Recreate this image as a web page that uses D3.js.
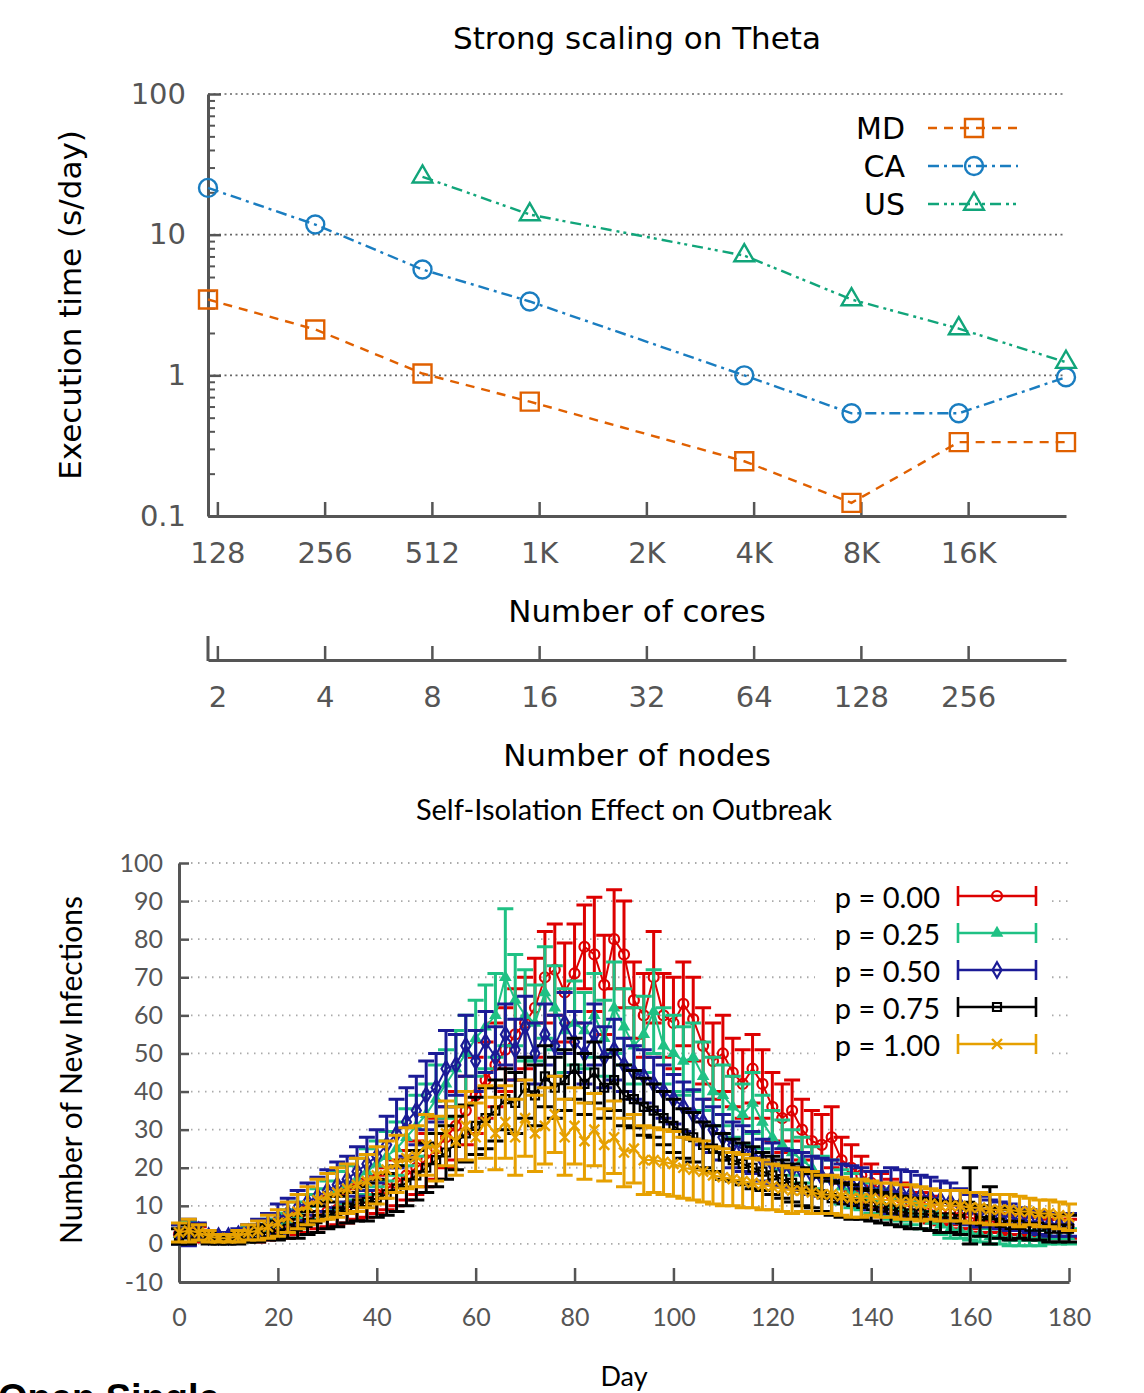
<!DOCTYPE html>
<html>
<head>
<meta charset="utf-8">
<script src="https://cdn.jsdelivr.net/npm/d3@7"></script>
<style>
  body { margin: 0; background: #fff; overflow: hidden; }
</style>
</head>
<body>
<div id="chart"></div>
<script>
// ---- top chart data (strong scaling) ----
var cores = [128, 256, 512, 1024, 2048, 4096, 8192, 16384, 32768];
var mdTime = [3.46, 2.12, 1.03, 0.65, null, 0.245, 0.124, 0.335, 0.335];
var caTime = [21.5, 11.8, 5.65, 3.35, null, 1.0, 0.537, 0.537, 0.97];
var usTime = [null, null, 25.8, 13.9, null, 7.1, 3.46, 2.15, 1.24];
var nodeTicks = [2, 4, 8, 16, 32, 64, 128, 256];
var coreTickLabels = ["128", "256", "512", "1K", "2K", "4K", "8K", "16K"];
var coresPerNode = 68;
var timeTicks = [0.1, 1, 10, 100];

// ---- bottom chart data (new infections per day, every 2nd day) ----
var days = d3.range(0, 181, 2);
var p000 = [2.5, 3, 2.5, 2, 1.5, 1.5, 2, 2,
  2.5, 3, 4, 4.5, 5.5, 6.5, 7.5, 8.5,
  9, 10, 11, 12, 13, 14.5, 16, 18,
  20, 22, 25, 28, 31, 35, 39, 43,
  47, 51, 55, 58, 62, 70, 72, 66,
  71, 78, 76, 68, 80, 76, 64, 60,
  70, 60, 58, 63, 59, 52, 48, 50,
  45, 42, 46, 42, 36, 33, 35, 30,
  27, 26, 28, 22, 20, 18, 16, 14,
  13, 12, 11, 10, 9, 8, 8, 7,
  7, 6, 6, 5.5, 5, 5, 4.5, 4.5,
  4, 4, 4];
var p000Err = [2.5, 3, 2, 1.5, 1, 1, 1.5, 1.5,
  2, 2, 2.5, 3, 3, 3.5, 3.5, 4,
  4, 4.5, 4.5, 5, 5, 5.5, 6, 6.5,
  7, 7, 8, 8, 9, 9, 10, 10,
  11, 11, 12, 12, 13, 12, 12, 13,
  13, 11, 15, 13, 13, 14, 10, 11,
  12, 11, 12, 11, 11, 10, 10, 10,
  9, 9, 9, 9, 9, 9, 8, 8,
  8, 8, 8, 6, 6, 5, 5, 4.5,
  4, 4, 4, 3.5, 3.5, 3, 3, 3,
  3, 3, 3, 2.5, 2.5, 2.5, 2.5, 2.5,
  2.5, 2.5, 2.5];
var p025 = [2.5, 3, 3, 2, 1.5, 1.5, 2, 2.5,
  3, 4, 5, 6, 7.5, 9, 10.5, 12,
  14, 15.5, 17, 19, 21, 23, 25, 28,
  31, 34, 38, 42, 46, 50, 54, 57,
  60, 70, 64, 60, 58, 66, 62, 56,
  58, 56, 60, 54, 62, 57, 52, 55,
  61, 52, 50, 48, 49, 44, 40, 39,
  36, 34, 37, 32, 28, 26, 24, 22,
  20, 18, 17, 15, 14, 13, 12, 11,
  10, 9, 8, 7, 6, 5, 4, 3.5,
  3, 2.5, 2, 2, 1.5, 1.5, 1.5, 1.5,
  2, 2, 2];
var p025Err = [2.5, 3, 2, 1.5, 1, 1, 1.5, 2,
  2, 2.5, 3, 3, 3.5, 4, 4, 4.5,
  5, 5, 5.5, 6, 6, 6.5, 7, 7.5,
  8, 8, 9, 9, 10, 10, 10, 11,
  11, 18, 12, 12, 10, 12, 11, 11,
  11, 10, 11, 10, 12, 10, 10, 10,
  11, 10, 10, 9, 9, 9, 9, 8,
  8, 8, 8, 7, 7, 6.5, 6, 6,
  5.5, 5, 5, 4.5, 4.5, 4, 4, 3.5,
  3.5, 3, 3, 3, 2.5, 2.5, 2.5, 2,
  2, 2, 2, 2, 2, 2, 2, 2,
  2, 2, 2];
var p050 = [2.5, 3, 3.5, 2, 2, 2, 2.5, 3,
  4, 5, 6.5, 8, 9.5, 11, 12.5, 14,
  15.5, 17, 19, 21, 23, 26, 29, 32,
  35, 39, 41, 46, 47, 52, 48, 53,
  49, 55, 51, 57, 50, 55, 52, 58,
  53, 50, 55, 49, 51, 47, 45, 44,
  42, 40, 38, 36, 34, 32, 30, 28,
  26, 25, 24, 22, 21, 20, 19.5, 19,
  18, 17.5, 17, 16, 15.5, 15, 14, 14,
  14, 13.5, 13, 12.5, 12, 11.5, 11, 10,
  9, 8.5, 8, 7.5, 7, 6.5, 6, 5.5,
  5, 5, 5];
var p050Err = [2.5, 3.5, 2, 1.5, 1, 1, 1.5, 2,
  2.5, 3, 4, 4, 4.5, 5, 5, 5.5,
  6, 6, 6.5, 7, 7, 7.5, 9, 9,
  9, 9, 9, 10, 8, 8, 8, 8,
  8, 8, 8, 8, 8, 8, 8, 8,
  8, 8, 8, 8, 8, 7, 7, 7,
  7, 7, 6.5, 6.5, 6.5, 6, 6, 6,
  6, 6, 5.5, 5.5, 5.5, 5, 5, 5,
  5, 5, 5, 5, 5, 5, 5, 5,
  6, 6, 6, 5.5, 5.5, 5, 5, 4.5,
  4, 4, 3.5, 3.5, 3.5, 3, 3, 3,
  3, 3, 3];
var p075 = [2, 2.5, 3, 1.5, 1, 1, 1.5, 2,
  2.5, 3, 3.5, 4, 4.5, 5.5, 6.5, 7.5,
  8.5, 9.5, 10.5, 11, 12, 13, 14.5, 16,
  18, 20, 22, 24, 26.5, 29, 31, 33,
  35, 38, 37, 41, 39, 44, 41, 43,
  46, 42, 45, 41, 43, 39, 38, 36,
  35, 33, 31, 29, 28, 26, 25, 23,
  22, 21, 20, 19, 18, 17, 16, 15,
  14, 13, 12, 11.5, 11, 10.5, 10, 9.5,
  9, 8.5, 8, 8, 7.5, 7, 7, 6.5,
  10, 6, 7.5, 5.5, 5, 5, 4.5, 4.5,
  4, 4, 4];
var p075Err = [2, 2.5, 2, 1.5, 1, 1, 1.5, 1.5,
  2, 2, 2.5, 2.5, 3, 3, 3.5, 3.5,
  4, 4, 4.5, 5, 5, 5.5, 6, 6,
  6.5, 6.5, 7, 7, 7, 7.5, 7.5, 8,
  8, 8, 8, 8, 8, 8, 8, 8,
  8, 8, 8, 8, 8, 8, 7.5, 7.5,
  7, 7, 7, 6.5, 6.5, 6, 6, 6,
  5.5, 5.5, 5.5, 5, 5, 5, 5, 5,
  4.5, 4.5, 4.5, 4.5, 4.5, 4, 4, 4,
  4, 4, 4, 4, 4, 4, 4, 4,
  10, 4, 7.5, 4, 4, 3.5, 3.5, 3.5,
  3.5, 3.5, 3.5];
var p100 = [3, 3.5, 3, 2, 1.5, 1.5, 2, 3,
  3.5, 4.5, 5.5, 7, 8.5, 10, 11.5, 12.5,
  13.5, 14.5, 15.5, 16.5, 18, 19.5, 21, 22.5,
  23, 26, 25, 29, 27, 31, 28, 32,
  29, 32, 28, 33, 29, 31, 34, 28,
  31, 27, 30, 26, 28, 24, 25, 22,
  22, 21.5, 21, 20, 19.5, 19, 18, 17.5,
  17, 16.5, 16, 15.5, 15, 14.5, 14, 14,
  13.5, 13, 13, 12.5, 12, 12, 12, 11.5,
  11.5, 11, 11, 10.5, 10.5, 10, 10, 10,
  9.5, 9.5, 9, 9, 9, 8.5, 8.5, 8,
  8, 7.5, 7];
var p100Err = [2.5, 3, 2, 1.5, 1, 1, 1.5, 2,
  2.5, 3, 3.5, 4, 4.5, 5, 5.5, 6,
  6.5, 6.5, 7, 7, 7.5, 7.5, 7.5, 8,
  8, 8, 8.5, 8.5, 9, 9, 9, 9.5,
  9.5, 9.5, 10, 10, 10, 10, 10, 10,
  10, 10, 9.5, 9.5, 9.5, 9, 9, 9,
  8.5, 8.5, 8.5, 8, 8, 8, 7.5, 7.5,
  7, 7, 6.5, 6.5, 6, 6, 6, 5.5,
  5.5, 5, 5, 5, 5, 5, 4.5, 4.5,
  4.5, 4.5, 4.5, 4.5, 4, 4, 4, 4,
  4, 4, 4, 4, 4, 4, 3.5, 3.5,
  3.5, 3.5, 3.5];

var svg = d3.select("#chart")
  .append("svg")
    .attr("width", 1144)
    .attr("height", 1393);

var topFont = "'DejaVu Sans', sans-serif";
var botFont = "Lato, 'Open Sans', sans-serif";
var axisGrey = "#555";

// ================= top chart =================
var box = {left: 208, right: 1066, top: 94, bottom: 516};

var x = d3.scaleLog().base(2)
  .domain([128, 32768])
  .range([box.left, box.right]);
var y = d3.scaleLog()
  .domain([0.1, 100])
  .range([box.bottom, box.top]);

svg.append("text")
  .attr("x", 637).attr("y", 38)
  .attr("text-anchor", "middle")
  .attr("dominant-baseline", "central")
  .style("font-family", topFont).style("font-size", "31px")
  .text("Strong scaling on Theta");

// dotted grid
svg.append("g").selectAll("line")
  .data([1, 10, 100])
  .enter().append("line")
    .attr("x1", box.left).attr("x2", box.right)
    .attr("y1", function(d) { return y(d); })
    .attr("y2", function(d) { return y(d); })
    .attr("stroke", "#666")
    .attr("stroke-width", 1.6)
    .attr("stroke-dasharray", "2,3.5");

// y axis (major + minor)
var yAxis = svg.append("g")
  .attr("transform", "translate(" + box.left + ",0)")
  .call(d3.axisLeft(y).tickValues(timeTicks).tickSize(-13).tickSizeOuter(0)
    .tickPadding(22).tickFormat(d3.format("~g")));
var minorTicks = y.ticks().filter(function(d) {
  var l = Math.log10(d);
  return Math.abs(l - Math.round(l)) > 1e-6;
});
svg.append("g")
  .attr("transform", "translate(" + box.left + ",0)")
  .call(d3.axisLeft(y).tickValues(minorTicks).tickSize(-7).tickFormat(""))
  .call(function(g) {
    g.select(".domain").remove();
    g.selectAll(".tick line").attr("stroke", axisGrey).attr("stroke-width", 2);
  });

// x axis (cores)
var xAxis = svg.append("g")
  .attr("transform", "translate(0," + box.bottom + ")")
  .call(d3.axisBottom(x)
    .tickValues(nodeTicks.map(function(n) { return n * coresPerNode; }))
    .tickSize(-14).tickSizeOuter(0).tickPadding(26)
    .tickFormat(function(d, i) { return coreTickLabels[i]; }));

svg.append("text")
  .attr("x", 637).attr("y", 611)
  .attr("text-anchor", "middle")
  .attr("dominant-baseline", "central")
  .style("font-family", topFont).style("font-size", "31px")
  .text("Number of cores");

// second x axis (nodes)
var nodeScale = d3.scaleLog().base(2)
  .domain([128 / coresPerNode, 32768 / coresPerNode])
  .range([box.left, box.right]);
var nodeAxis = svg.append("g")
  .attr("transform", "translate(0,660)")
  .call(d3.axisBottom(nodeScale).tickValues(nodeTicks)
    .tickSize(-14).tickSizeOuter(0).tickPadding(26)
    .tickFormat(d3.format("d")));
svg.append("line")
  .attr("x1", box.left).attr("x2", box.left)
  .attr("y1", 636).attr("y2", 661)
  .attr("stroke", axisGrey).attr("stroke-width", 3);

svg.append("text")
  .attr("x", 637).attr("y", 755)
  .attr("text-anchor", "middle")
  .attr("dominant-baseline", "central")
  .style("font-family", topFont).style("font-size", "31px")
  .text("Number of nodes");

svg.append("text")
  .attr("transform", "translate(70,305) rotate(-90)")
  .attr("text-anchor", "middle")
  .attr("dominant-baseline", "central")
  .style("font-family", topFont).style("font-size", "31px")
  .text("Execution time (s/day)");

[yAxis, xAxis, nodeAxis].forEach(function(a) {
  a.select(".domain").attr("stroke", axisGrey).attr("stroke-width", 3);
  a.selectAll(".tick line").attr("stroke", axisGrey).attr("stroke-width", 2.5);
  a.selectAll(".tick text")
    .attr("fill", axisGrey)
    .style("font-family", topFont).style("font-size", "29px");
});

var scaling = [
  {name: "MD", values: mdTime, color: "#e06000", dash: "9,7", shape: "square"},
  {name: "CA", values: caTime, color: "#1a7dc0", dash: "11,5,3,5", shape: "circle"},
  {name: "US", values: usTime, color: "#11a57a", dash: "11,5,3,4,3,5", shape: "triangle"}
];

function topMarker(g, shape) {
  if (shape === "circle") {
    return g.append("circle").attr("r", 9);
  }
  var t = shape === "square" ? d3.symbolSquare : d3.symbolTriangle;
  var s = shape === "square" ? 324 : 170;
  return g.append("path").attr("d", d3.symbol().type(t).size(s)());
}

var lineTop = d3.line()
  .x(function(d) { return x(d.c); })
  .y(function(d) { return y(d.t); });

scaling.forEach(function(s, k) {
  var pts = cores.map(function(c, i) { return {c: c, t: s.values[i]}; })
    .filter(function(d) { return d.t != null; });

  svg.append("path")
    .datum(pts)
    .attr("d", lineTop)
    .attr("fill", "none")
    .attr("stroke", s.color)
    .attr("stroke-width", 2.4)
    .attr("stroke-dasharray", s.dash);

  pts.forEach(function(d) {
    var g = svg.append("g").attr("transform", "translate(" + x(d.c) + "," + y(d.t) + ")");
    topMarker(g, s.shape).attr("fill", "none").attr("stroke", s.color).attr("stroke-width", 2.4);
  });

  // legend entry
  var ly = 128 + k * 38;
  svg.append("text")
    .attr("x", 905).attr("y", ly)
    .attr("text-anchor", "end")
    .attr("dominant-baseline", "central")
    .style("font-family", topFont).style("font-size", "30px")
    .text(s.name);
  svg.append("line")
    .attr("x1", 928).attr("x2", 1018).attr("y1", ly).attr("y2", ly)
    .attr("stroke", s.color).attr("stroke-width", 2.4)
    .attr("stroke-dasharray", s.dash);
  var lg = svg.append("g").attr("transform", "translate(974," + ly + ")");
  topMarker(lg, s.shape).attr("fill", "none").attr("stroke", s.color).attr("stroke-width", 2.4);
});

// ================= bottom chart =================
var b = {left: 179, right: 1069, top: 863, bottom: 1282};
var x2 = d3.scaleLinear().domain([0, 180]).range([b.left, b.right]);
var y2 = d3.scaleLinear().domain([-10, 100]).range([b.bottom, b.top]);
var yTicks2 = d3.range(-10, 101, 10);
var xTicks2 = d3.range(0, 181, 20);

svg.append("text")
  .attr("x", 624).attr("y", 808)
  .attr("text-anchor", "middle")
  .attr("dominant-baseline", "central")
  .style("font-family", botFont).style("font-size", "29px")
  .text("Self-Isolation Effect on Outbreak");

svg.append("g").selectAll("line")
  .data(yTicks2.filter(function(d) { return d > -10; }))
  .enter().append("line")
    .attr("x1", b.left + 12).attr("x2", b.right)
    .attr("y1", function(d) { return y2(d); })
    .attr("y2", function(d) { return y2(d); })
    .attr("stroke", "#aaa")
    .attr("stroke-width", 1.8)
    .attr("stroke-dasharray", "1.5,5.5");

var yAxis2 = svg.append("g")
  .attr("transform", "translate(" + b.left + ",0)")
  .call(d3.axisLeft(y2).tickValues(yTicks2).tickSize(-10).tickSizeOuter(0)
    .tickPadding(16).tickFormat(function(d) { return String(d); }));
var xAxis2 = svg.append("g")
  .attr("transform", "translate(0," + b.bottom + ")")
  .call(d3.axisBottom(x2).tickValues(xTicks2).tickSize(-14).tickSizeOuter(0)
    .tickPadding(26).tickFormat(function(d) { return String(d); }));

[yAxis2, xAxis2].forEach(function(a) {
  a.select(".domain").attr("stroke", axisGrey).attr("stroke-width", 3);
  a.selectAll(".tick line").attr("stroke", axisGrey).attr("stroke-width", 2.5);
  a.selectAll(".tick text")
    .attr("fill", axisGrey)
    .style("font-family", botFont).style("font-size", "25px");
});

svg.append("text")
  .attr("x", 624).attr("y", 1375)
  .attr("text-anchor", "middle")
  .attr("dominant-baseline", "central")
  .style("font-family", botFont).style("font-size", "27px")
  .text("Day");

svg.append("text")
  .attr("transform", "translate(70,1070) rotate(-90)")
  .attr("text-anchor", "middle")
  .attr("dominant-baseline", "central")
  .style("font-family", botFont).style("font-size", "30px")
  .text("Number of New Infections");

var outbreak = [
  {label: "p = 0.00", mean: p000, err: p000Err, color: "#dd0000", shape: "circle"},
  {label: "p = 0.25", mean: p025, err: p025Err, color: "#1fc184", shape: "triangle"},
  {label: "p = 0.50", mean: p050, err: p050Err, color: "#1b1b96", shape: "diamond"},
  {label: "p = 0.75", mean: p075, err: p075Err, color: "#000000", shape: "square"},
  {label: "p = 1.00", mean: p100, err: p100Err, color: "#e6a000", shape: "x"}
];

function botMarker(g, shape, color) {
  if (shape === "circle") {
    return g.append("circle").attr("r", 5).attr("fill", "none")
      .attr("stroke", color).attr("stroke-width", 2.2);
  }
  if (shape === "triangle") {
    return g.append("path").attr("d", d3.symbol().type(d3.symbolTriangle).size(70)())
      .attr("fill", color);
  }
  if (shape === "diamond") {
    return g.append("path").attr("d", d3.symbol().type(d3.symbolDiamond).size(70)())
      .attr("fill", "none").attr("stroke", color).attr("stroke-width", 2.2);
  }
  if (shape === "square") {
    return g.append("path").attr("d", d3.symbol().type(d3.symbolSquare).size(64)())
      .attr("fill", "none").attr("stroke", color).attr("stroke-width", 2.2);
  }
  return g.append("path").attr("d", "M-5,-5L5,5M-5,5L5,-5")
    .attr("fill", "none").attr("stroke", color).attr("stroke-width", 2.4);
}

var lineBot = d3.line()
  .x(function(d) { return x2(d.day); })
  .y(function(d) { return y2(d.v); });

outbreak.forEach(function(s) {
  var rows = days.map(function(d, i) { return {day: d, v: s.mean[i], e: s.err[i]}; });
  var g = svg.append("g");

  g.append("path")
    .datum(rows)
    .attr("d", lineBot)
    .attr("fill", "none")
    .attr("stroke", s.color)
    .attr("stroke-width", 2);

  g.selectAll(".bar")
    .data(rows)
    .enter().append("path")
      .attr("d", function(d) {
        var px = x2(d.day), hi = y2(d.v + d.e), lo = y2(d.v - d.e);
        return "M" + px + "," + hi + "V" + lo +
          "M" + (px - 8) + "," + hi + "H" + (px + 8) +
          "M" + (px - 8) + "," + lo + "H" + (px + 8);
      })
      .attr("fill", "none")
      .attr("stroke", s.color)
      .attr("stroke-width", 3);

  rows.forEach(function(d) {
    var m = g.append("g").attr("transform", "translate(" + x2(d.day) + "," + y2(d.v) + ")");
    botMarker(m, s.shape, s.color);
  });
});

// legend box
svg.append("rect")
  .attr("x", 815).attr("y", 876)
  .attr("width", 232).attr("height", 188)
  .attr("fill", "#fff");

outbreak.forEach(function(s, k) {
  var ly = 896 + k * 37;
  svg.append("text")
    .attr("x", 940).attr("y", ly)
    .attr("text-anchor", "end")
    .attr("dominant-baseline", "central")
    .style("font-family", botFont).style("font-size", "29px")
    .text(s.label);
  svg.append("path")
    .attr("d", "M958," + (ly - 10) + "V" + (ly + 10) + "M958," + ly + "H1036" +
      "M1036," + (ly - 10) + "V" + (ly + 10))
    .attr("fill", "none")
    .attr("stroke", s.color)
    .attr("stroke-width", 2.6);
  var m = svg.append("g").attr("transform", "translate(997," + ly + ")");
  botMarker(m, s.shape, s.color);
});

// heading of the next page section, cut off by the frame as in the source
svg.append("text")
  .attr("x", -2).attr("y", 1411)
  .style("font-family", "'Liberation Sans', Arial, sans-serif")
  .style("font-weight", "bold").style("font-size", "38px")
  .text("Open Single");
</script>
</body>
</html>
